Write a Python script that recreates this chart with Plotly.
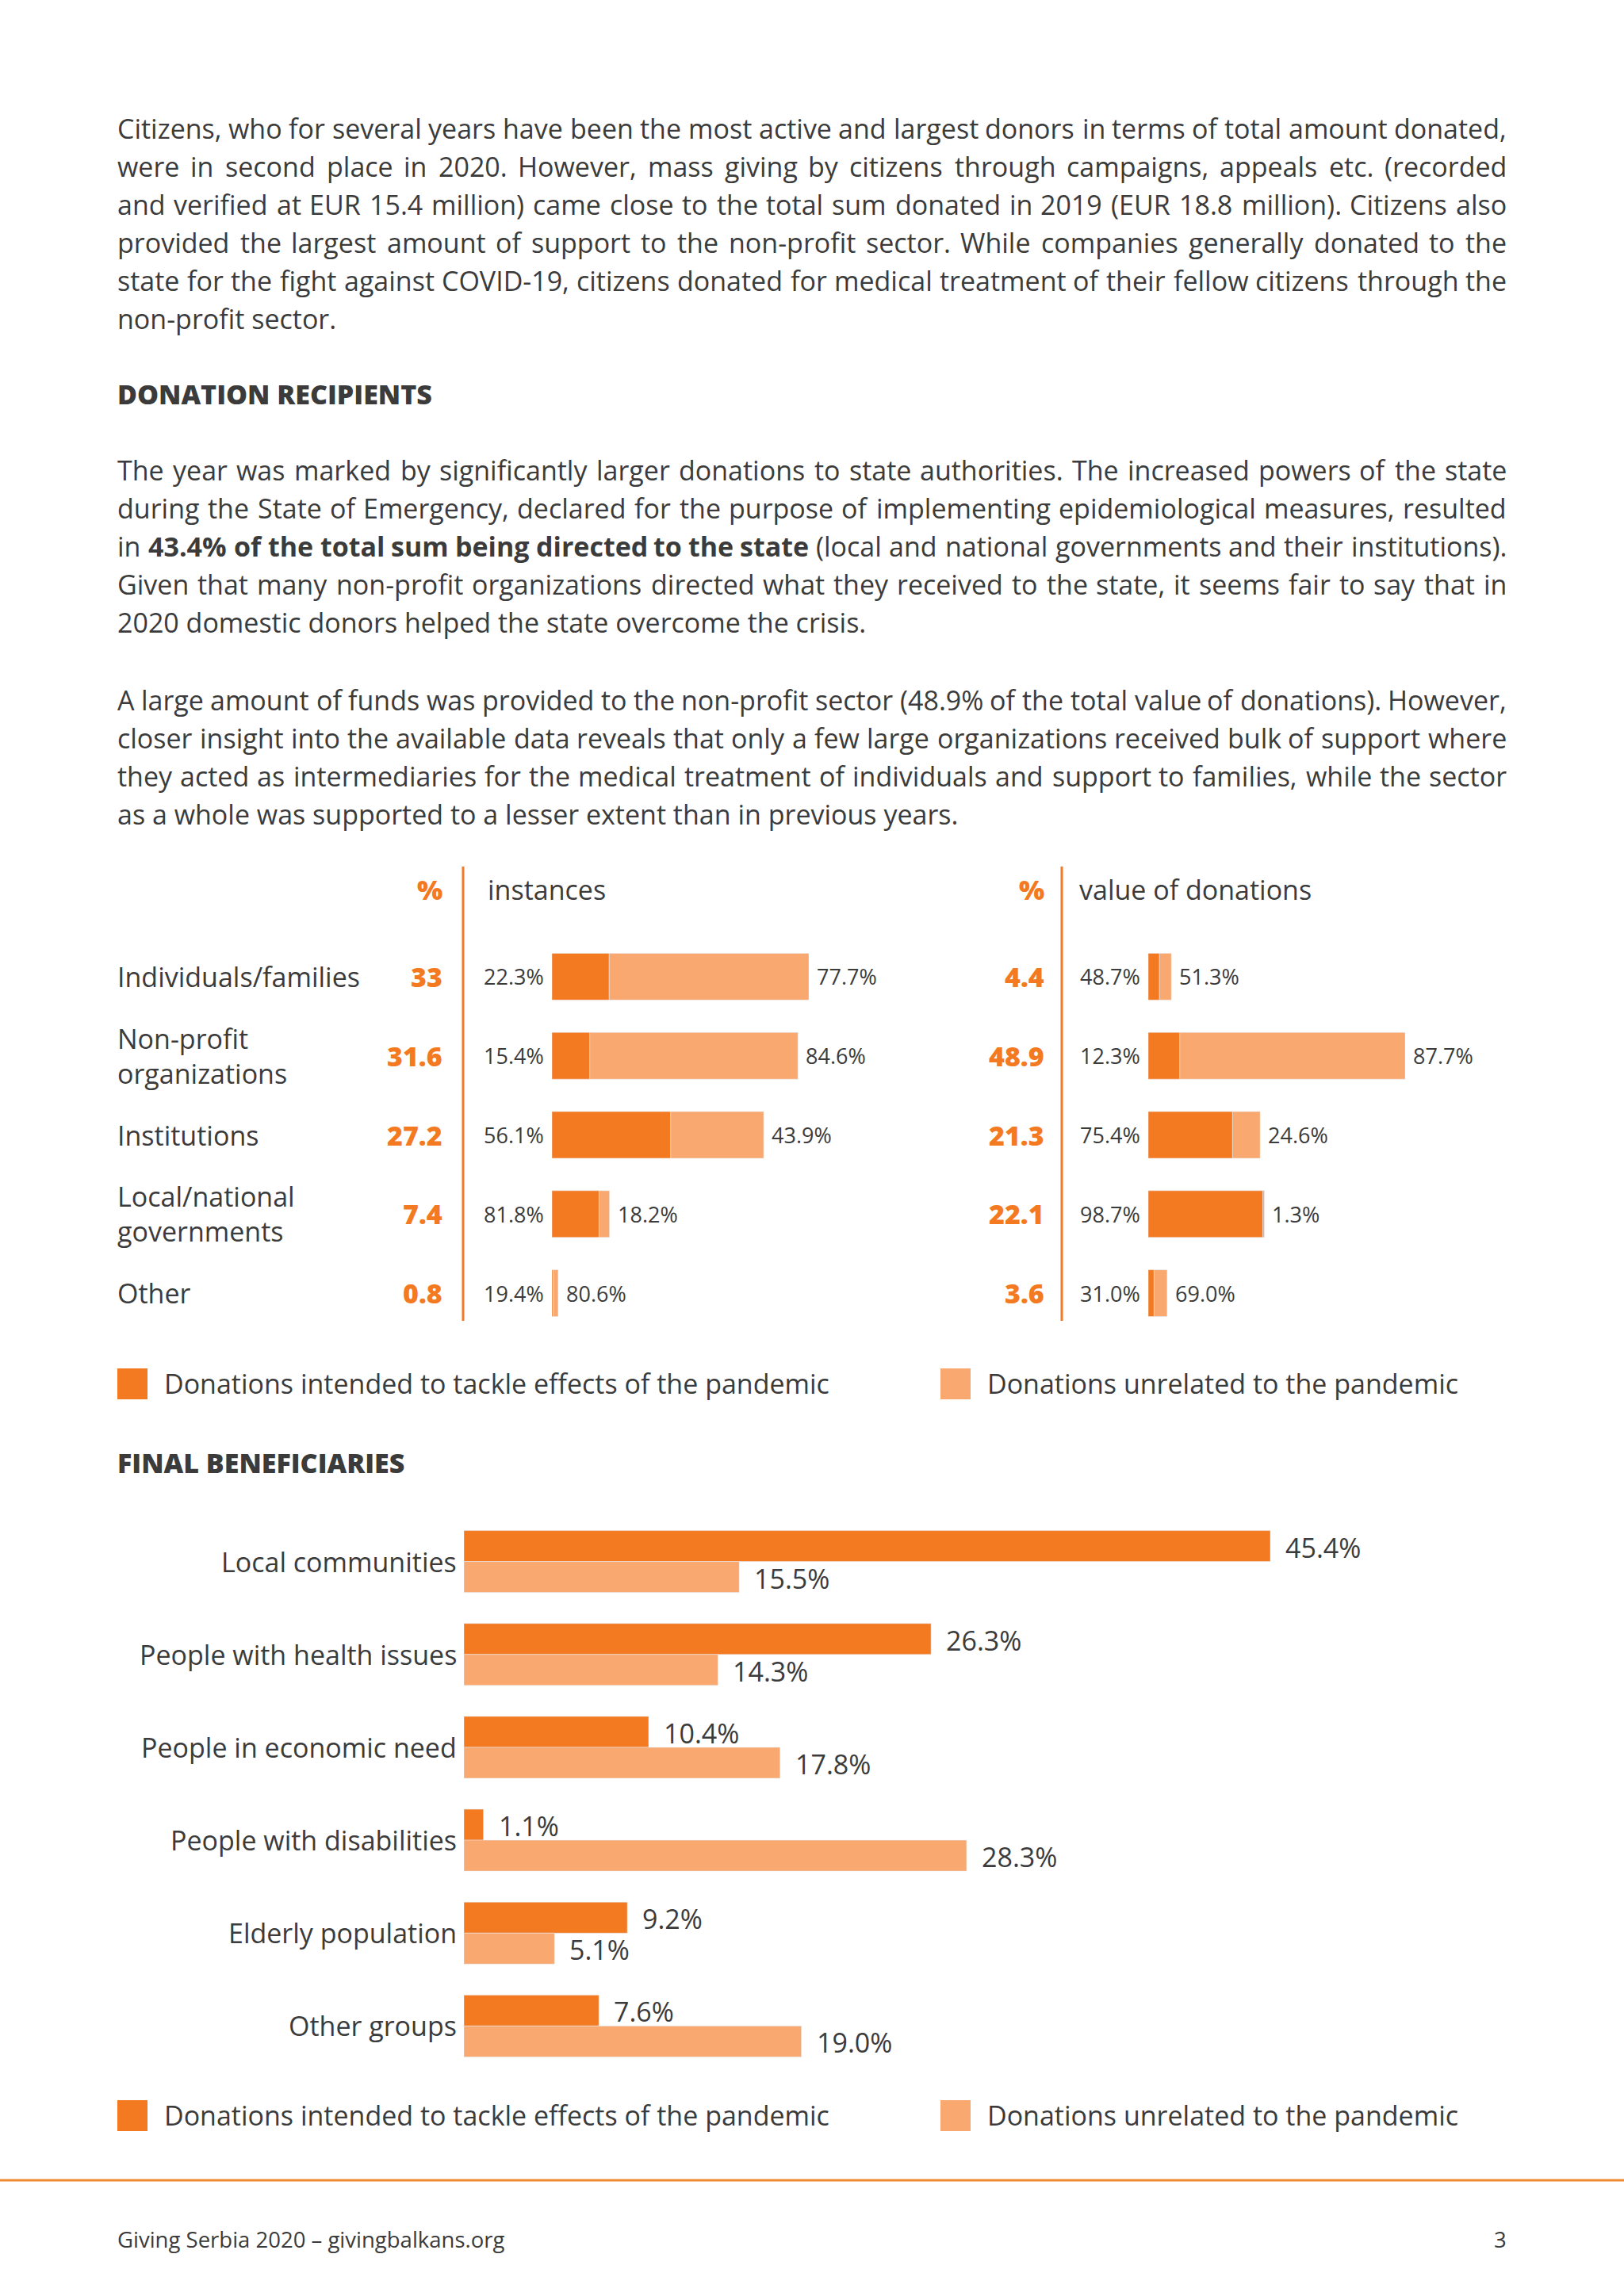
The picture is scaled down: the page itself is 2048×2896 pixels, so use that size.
import plotly.graph_objects as go

W, H = 2048, 2896
DARK = "#F47A22"
LIGHT = "#F9A870"
TEXT = "#3B3B3B"
FONT = "Open Sans"

# ---------------- data ----------------
recipients = ["Individuals/families", "Non-profit<br>organizations", "Institutions",
              "Local/national<br>governments", "Other"]
instances_pct = [33, 31.6, 27.2, 7.4, 0.8]
instances_pandemic_share = [22.3, 15.4, 56.1, 81.8, 19.4]
instances_other_share = [77.7, 84.6, 43.9, 18.2, 80.6]
value_pct = [4.4, 48.9, 21.3, 22.1, 3.6]
value_pandemic_share = [48.7, 12.3, 75.4, 98.7, 31.0]
value_other_share = [51.3, 87.7, 24.6, 1.3, 69.0]

beneficiaries = ["Local communities", "People with health issues", "People in economic need",
                 "People with disabilities", "Elderly population", "Other groups"]
benef_pandemic = [45.4, 26.3, 10.4, 1.1, 9.2, 7.6]
benef_other = [15.5, 14.3, 17.8, 28.3, 5.1, 19.0]

legend_labels = ["Donations intended to tackle effects of the pandemic",
                 "Donations unrelated to the pandemic"]

para1 = [
    "Citizens, who for several years have been the most active and largest donors in terms of total amount donated,",
    "were in second place in 2020. However, mass giving by citizens through campaigns, appeals etc. (recorded",
    "and verified at EUR 15.4 million) came close to the total sum donated in 2019 (EUR 18.8 million). Citizens also",
    "provided the largest amount of support to the non-profit sector. While companies generally donated to the",
    "state for the fight against COVID-19, citizens donated for medical treatment of their fellow citizens through the",
    "non-profit sector.",
]
para2 = [
    "The year was marked by significantly larger donations to state authorities. The increased powers of the state",
    "during the State of Emergency, declared for the purpose of implementing epidemiological measures, resulted",
    "in *43.4% *of *the *total *sum *being *directed *to *the *state (local and national governments and their institutions).",
    "Given that many non-profit organizations directed what they received to the state, it seems fair to say that in",
    "2020 domestic donors helped the state overcome the crisis.",
]
para3 = [
    "A large amount of funds was provided to the non-profit sector (48.9% of the total value of donations). However,",
    "closer insight into the available data reveals that only a few large organizations received bulk of support where",
    "they acted as intermediaries for the medical treatment of individuals and support to families, while the sector",
    "as a whole was supported to a lesser extent than in previous years.",
]

def px(x):
    return x / W

def py(y):
    return 1 - y / H

fig = go.Figure()
ann = []
shapes = []

def A(**kw):
    kw.setdefault("showarrow", False)
    kw.setdefault("borderpad", 0)
    kw.setdefault("borderwidth", 0)
    ann.append(kw)

# ---------------- approximate Open Sans advance widths (units/em = 2048) ----------------
ADV = {
    " ": 532, "%": 1696, "(": 606, ")": 606, ",": 502, "-": 659, ".": 545, "/": 752, ":": 545,
    "A": 1296, "B": 1327, "C": 1292, "D": 1493, "E": 1139, "F": 1057, "G": 1491, "H": 1511,
    "I": 571, "J": 547, "K": 1257, "L": 1063, "M": 1849, "N": 1544, "O": 1595, "P": 1233,
    "Q": 1595, "R": 1266, "S": 1124, "T": 1143, "U": 1511, "V": 1212, "W": 1896, "X": 1165,
    "Y": 1133, "Z": 1170,
    "a": 1139, "b": 1255, "c": 975, "d": 1255, "e": 1149, "f": 694, "g": 1122, "h": 1257,
    "i": 518, "j": 518, "k": 1075, "l": 518, "m": 1905, "n": 1257, "o": 1237, "p": 1255,
    "q": 1255, "r": 836, "s": 977, "t": 723, "u": 1257, "v": 1026, "w": 1593, "x": 1073,
    "y": 1028, "z": 958,
}
for d in "0123456789":
    ADV[d] = 1171
BOLD_ADV = {
    " ": 532, "%": 1839, ".": 573, "a": 1208, "b": 1264, "c": 1022, "d": 1264, "e": 1208,
    "f": 797, "g": 1143, "h": 1337, "i": 608, "l": 608, "m": 2005, "n": 1337, "o": 1247,
    "r": 918, "s": 1014, "t": 860, "u": 1337,
}
for d in "0123456789":
    BOLD_ADV[d] = 1171

BODY_SIZE = 34
LEFT, RIGHT = 148, 1900

def word_width(w, bold):
    tab = BOLD_ADV if bold else ADV
    u = sum(tab.get(c, ADV.get(c, 1150)) for c in w)
    return u * BODY_SIZE / 2048

def add_line(line, y, justify):
    toks = []
    for t in line.split(" "):
        b = t.startswith("*")
        toks.append((t[1:] if b else t, b))
    if not justify:
        txt = " ".join(f"<b>{t}</b>" if b else t for t, b in toks)
        A(xref="paper", yref="paper", x=px(LEFT), y=py(y), text=txt,
          xanchor="left", yanchor="middle", font=dict(size=BODY_SIZE, color=TEXT, family=FONT))
        return
    widths = [word_width(t, b) for t, b in toks]
    n = len(toks)
    gap = (RIGHT - LEFT - sum(widths)) / (n - 1)
    for i, (t, b) in enumerate(toks):
        txt = f"<b>{t}</b>" if b else t
        if i < n / 2:
            x = LEFT + sum(widths[:i]) + i * gap
            xa = "left"
        else:
            x = RIGHT - sum(widths[i + 1:]) - (n - 1 - i) * gap
            xa = "right"
        A(xref="paper", yref="paper", x=px(x), y=py(y), text=txt,
          xanchor=xa, yanchor="middle", font=dict(size=BODY_SIZE, color=TEXT, family=FONT))

def add_para(lines, y0):
    for i, t in enumerate(lines):
        add_line(t, y0 + 48 * i, justify=(i < len(lines) - 1))

add_para(para1, 162)
add_para(para2, 593)
add_para(para3, 883)

for t, y in [("DONATION RECIPIENTS", 497), ("FINAL BENEFICIARIES", 1845)]:
    A(xref="paper", yref="paper", x=px(148), y=py(y), text=t, xanchor="left", yanchor="middle",
      font=dict(size=34, color=TEXT, family=FONT, weight=800))

# ---------------- stacked bars (instances / value) ----------------
def stacked(xa, ya, totals, share_p, share_o):
    dark = [t * s / 100 for t, s in zip(totals, share_p)]
    light = [t * s / 100 for t, s in zip(totals, share_o)]
    fig.add_trace(go.Bar(y=recipients, x=dark, orientation="h", marker_color=DARK,
                         width=0.59, xaxis=xa, yaxis=ya, showlegend=False, hoverinfo="skip"))
    fig.add_trace(go.Bar(y=recipients, x=light, base=dark, orientation="h", marker_color=LIGHT,
                         width=0.59, xaxis=xa, yaxis=ya, showlegend=False, hoverinfo="skip"))
    for cat, t, sp, so in zip(recipients, totals, share_p, share_o):
        A(xref=xa, yref=ya, x=0, y=cat, text=f"{sp:.1f}%", xanchor="right", xshift=-10,
          font=dict(size=27, color=TEXT, family=FONT))
        A(xref=xa, yref=ya, x=t, y=cat, text=f"{so:.1f}%", xanchor="left", xshift=10,
          font=dict(size=27, color=TEXT, family=FONT))

stacked("x", "y", instances_pct, instances_pandemic_share, instances_other_share)
stacked("x2", "y2", value_pct, value_pandemic_share, value_other_share)

for cat, a, b in zip(recipients, instances_pct, value_pct):
    A(xref="paper", yref="y", x=px(148), y=cat, text=cat, xanchor="left", align="left",
      font=dict(size=34, color=TEXT, family=FONT))
    A(xref="paper", yref="y", x=px(558), y=cat, text=f"{a:g}", xanchor="right",
      font=dict(size=34, color=DARK, family=FONT, weight=800))
    A(xref="paper", yref="y", x=px(1317), y=cat, text=f"{b:g}", xanchor="right",
      font=dict(size=34, color=DARK, family=FONT, weight=800))

# headers
for xr, label_x, label in [(558, 615, "instances"), (1317, 1361, "value of donations")]:
    A(xref="paper", yref="paper", x=px(xr), y=py(1122), text="%", xanchor="right", yanchor="middle",
      font=dict(size=34, color=DARK, family=FONT, weight=800))
    A(xref="paper", yref="paper", x=px(label_x), y=py(1122), text=label, xanchor="left", yanchor="middle",
      font=dict(size=34, color=TEXT, family=FONT))

for vx in (584, 1339):
    shapes.append(dict(type="line", xref="paper", yref="paper", x0=px(vx), x1=px(vx),
                       y0=py(1093), y1=py(1666), line=dict(color="#F07A2A", width=3)))

# ---------------- grouped bars (final beneficiaries) ----------------
fig.add_trace(go.Bar(y=beneficiaries, x=benef_pandemic, orientation="h", marker_color=DARK,
                     width=0.333, offset=-0.333, xaxis="x3", yaxis="y3", showlegend=False, hoverinfo="skip"))
fig.add_trace(go.Bar(y=beneficiaries, x=benef_other, orientation="h", marker_color=LIGHT,
                     width=0.333, offset=0.0, xaxis="x3", yaxis="y3", showlegend=False, hoverinfo="skip"))
for cat, a, b in zip(beneficiaries, benef_pandemic, benef_other):
    A(xref="paper", yref="y3", x=px(576), y=cat, text=cat, xanchor="right",
      font=dict(size=34, color=TEXT, family=FONT))
    A(xref="x3", yref="y3", x=a, y=cat, text=f"{a:.1f}%", xanchor="left", xshift=19, yshift=18,
      font=dict(size=34, color=TEXT, family=FONT))
    A(xref="x3", yref="y3", x=b, y=cat, text=f"{b:.1f}%", xanchor="left", xshift=19, yshift=-21,
      font=dict(size=34, color=TEXT, family=FONT))

# ---------------- legends ----------------
for ly in (1745, 2668):
    for sx, col, lab in [(148, DARK, legend_labels[0]), (1186, LIGHT, legend_labels[1])]:
        shapes.append(dict(type="rect", xref="paper", yref="paper", x0=px(sx), x1=px(sx + 38),
                           y0=py(ly + 20), y1=py(ly - 19), fillcolor=col, line=dict(width=0)))
        A(xref="paper", yref="paper", x=px(sx + 59), y=py(ly), text=lab, xanchor="left", yanchor="middle",
          font=dict(size=34, color=TEXT, family=FONT))

# ---------------- footer ----------------
shapes.append(dict(type="line", xref="paper", yref="paper", x0=0, x1=1, y0=py(2750), y1=py(2750),
                   line=dict(color="#F08A30", width=3)))
A(xref="paper", yref="paper", x=px(148), y=py(2824), text="Giving Serbia 2020 – givingbalkans.org",
  xanchor="left", yanchor="middle", font=dict(size=27.5, color=TEXT, family=FONT))
A(xref="paper", yref="paper", x=px(1900), y=py(2824), text="3",
  xanchor="right", yanchor="middle", font=dict(size=27.5, color=TEXT, family=FONT))

# ---------------- axes ----------------
def hidden(**kw):
    d = dict(visible=False, fixedrange=True, showgrid=False, zeroline=False)
    d.update(kw)
    return d

y12_dom = [py(1681), py(1182)]
fig.update_layout(
    width=W, height=H, margin=dict(l=0, r=0, t=0, b=0),
    paper_bgcolor="white", plot_bgcolor="white", barmode="overlay",
    font=dict(family=FONT, color=TEXT),
    xaxis=hidden(domain=[px(696), px(1020)], range=[0, max(instances_pct)], anchor="y"),
    yaxis=hidden(domain=y12_dom, range=[len(recipients) - 0.5, -0.5], anchor="x",
                 type="category", categoryorder="array", categoryarray=recipients),
    xaxis2=hidden(domain=[px(1448), px(1772)], range=[0, max(value_pct)], anchor="y2"),
    yaxis2=hidden(domain=y12_dom, range=[len(recipients) - 0.5, -0.5], anchor="x2",
                  type="category", categoryorder="array", categoryarray=recipients),
    xaxis3=hidden(domain=[px(585), px(1602)], range=[0, max(benef_pandemic + benef_other)], anchor="y3"),
    yaxis3=hidden(domain=[py(2614), py(1911)], range=[len(beneficiaries) - 0.5, -0.5], anchor="x3",
                  type="category", categoryorder="array", categoryarray=beneficiaries),
    annotations=ann, shapes=shapes,
)

fig.write_html("out.html", config={"displayModeBar": False},
               post_script="document.body.style.margin='0';document.body.style.overflow='hidden';")
